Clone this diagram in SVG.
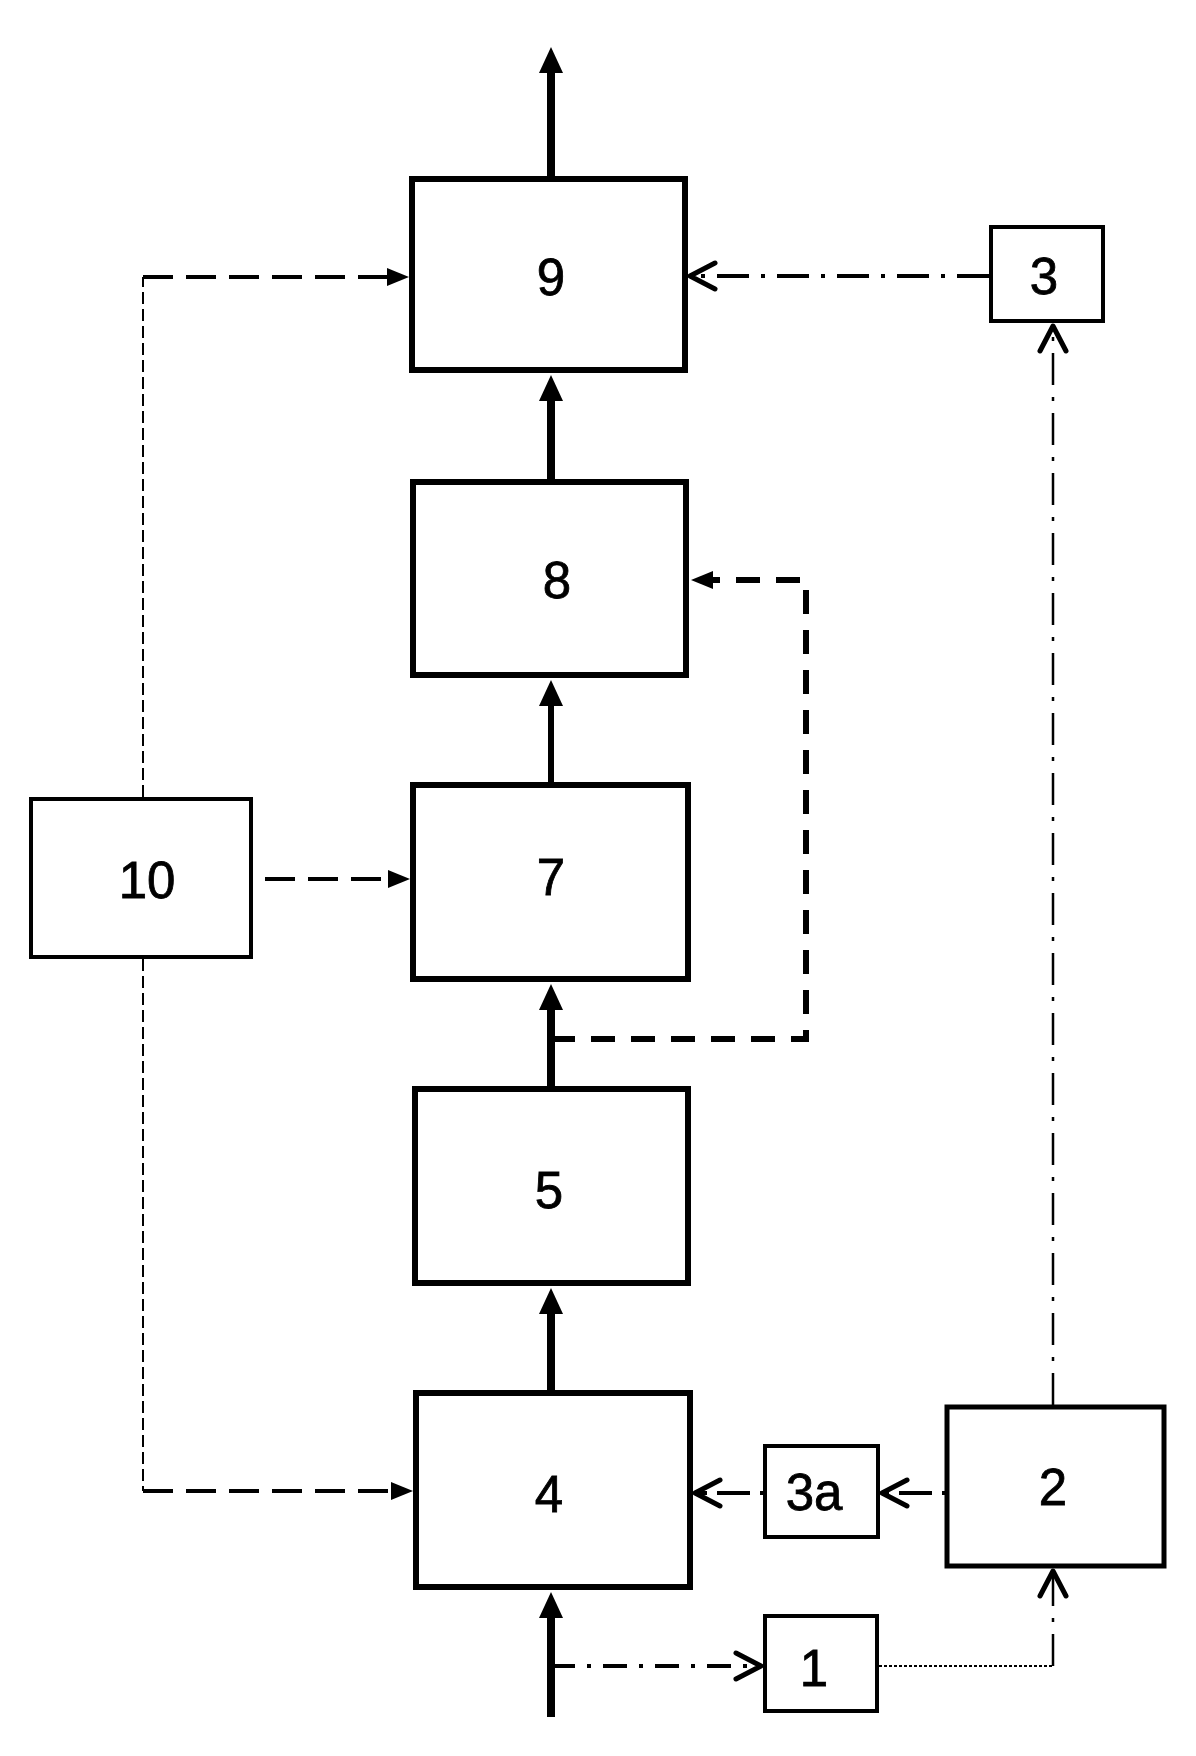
<svg xmlns="http://www.w3.org/2000/svg" width="1196" height="1756" viewBox="0 0 1196 1756">
<style>
.box{fill:#fff;stroke:#000;stroke-width:6}
.sbox{fill:#fff;stroke:#000;stroke-width:4}
.lbl{font-family:"Liberation Sans",Arial,sans-serif;font-size:51px;fill:#000;stroke:#000;stroke-width:0.8;text-anchor:middle;dominant-baseline:central}
.main{stroke:#000;stroke-width:8;fill:none;marker-end:url(#big)}
.dash{stroke:#000;stroke-width:4;fill:none;stroke-dasharray:30 13}
.thin{stroke:#000;stroke-width:2;fill:none;stroke-dasharray:12 5}
.dd{stroke:#000;stroke-width:4;fill:none;stroke-dasharray:32 12 4 12}
.dot{stroke:#000;stroke-width:2;fill:none;stroke-dasharray:3 2}
</style>
<defs>
<marker id="big" markerUnits="userSpaceOnUse" markerWidth="26" markerHeight="24" refX="10" refY="12" orient="auto" overflow="visible"><path d="M0,0 L26,12 L0,24 z" fill="#000"/></marker>
<marker id="sm" markerUnits="userSpaceOnUse" markerWidth="22" markerHeight="18" refX="8" refY="9" orient="auto" overflow="visible"><path d="M0,0 L22,9 L0,18 z" fill="#000"/></marker>
<marker id="chev" markerUnits="userSpaceOnUse" markerWidth="30" markerHeight="30" refX="28" refY="15" orient="auto" overflow="visible"><path d="M3,2 L28,15 L3,28" fill="none" stroke="#000" stroke-width="5" stroke-linecap="round" stroke-linejoin="round"/></marker>
</defs>
<g id="connectors">
<line class="main" x1="551" y1="176" x2="551" y2="63"/>
<line class="main" x1="551" y1="479" x2="551" y2="391"/>
<line class="main" x1="551" y1="782" x2="551" y2="696" style="stroke-width:6"/>
<line class="main" x1="551" y1="1086" x2="551" y2="1000"/>
<line class="main" x1="551" y1="1390" x2="551" y2="1304"/>
<line class="main" x1="551" y1="1717" x2="551" y2="1608"/>
<path d="M551,1039 H806 V580 H705" style="stroke:#000;stroke-width:6;fill:none;stroke-dasharray:24 16;marker-end:url(#sm)"/>
<path class="thin" d="M143,797 V277"/>
<path class="thin" d="M143,959 V1491"/>
<path class="dash" d="M143,277 H395" style="marker-end:url(#sm)"/>
<path class="dash" d="M143,1491 H399" style="marker-end:url(#sm)"/>
<path class="dash" d="M265,879 H396" style="marker-end:url(#sm)"/>
<path class="dd" d="M989,276 H690" style="marker-end:url(#chev)"/>
<path class="dd" d="M1053,1405 V326" style="stroke-width:2.5;marker-end:url(#chev)"/>
<path class="dd" d="M945,1493 H882" style="stroke-dasharray:3 10 30 0;marker-end:url(#chev)"/>
<path class="dd" d="M763,1493 H695" style="stroke-dasharray:3 10 30 0;marker-end:url(#chev)"/>
<path class="dd" d="M551,1666 H761" style="stroke-dasharray:24 12 4 12;marker-end:url(#chev)"/>
<path class="dot" d="M879,1666 H1053"/>
<path class="dd" d="M1053,1666 V1571" style="stroke-width:2.5;marker-end:url(#chev)"/>
</g>
<g id="n9"><rect class="box" x="412" y="179" width="273" height="191"/><text class="lbl" x="551" y="277">9</text></g>
<g id="n8"><rect class="box" x="413" y="482" width="273" height="193"/><text class="lbl" x="557" y="580">8</text></g>
<g id="n7"><rect class="box" x="413" y="785" width="275" height="194"/><text class="lbl" x="551" y="877">7</text></g>
<g id="n5"><rect class="box" x="415" y="1089" width="273" height="194"/><text class="lbl" x="549" y="1190">5</text></g>
<g id="n4"><rect class="box" x="416" y="1393" width="274" height="194"/><text class="lbl" x="549" y="1494">4</text></g>
<g id="n10"><rect class="sbox" x="31" y="799" width="220" height="158"/><text class="lbl" x="147" y="880">10</text></g>
<g id="n3"><rect class="sbox" x="991" y="227" width="112" height="94"/><text class="lbl" x="1044" y="276">3</text></g>
<g id="n3a"><rect class="sbox" x="765" y="1446" width="113" height="91"/><text class="lbl" x="814" y="1492">3a</text></g>
<g id="n2"><rect class="sbox" x="947" y="1407" width="217" height="159" style="stroke-width:5"/><text class="lbl" x="1053" y="1487">2</text></g>
<g id="n1"><rect class="sbox" x="765" y="1616" width="112" height="95"/><text class="lbl" x="814" y="1668">1</text></g>
</svg>
